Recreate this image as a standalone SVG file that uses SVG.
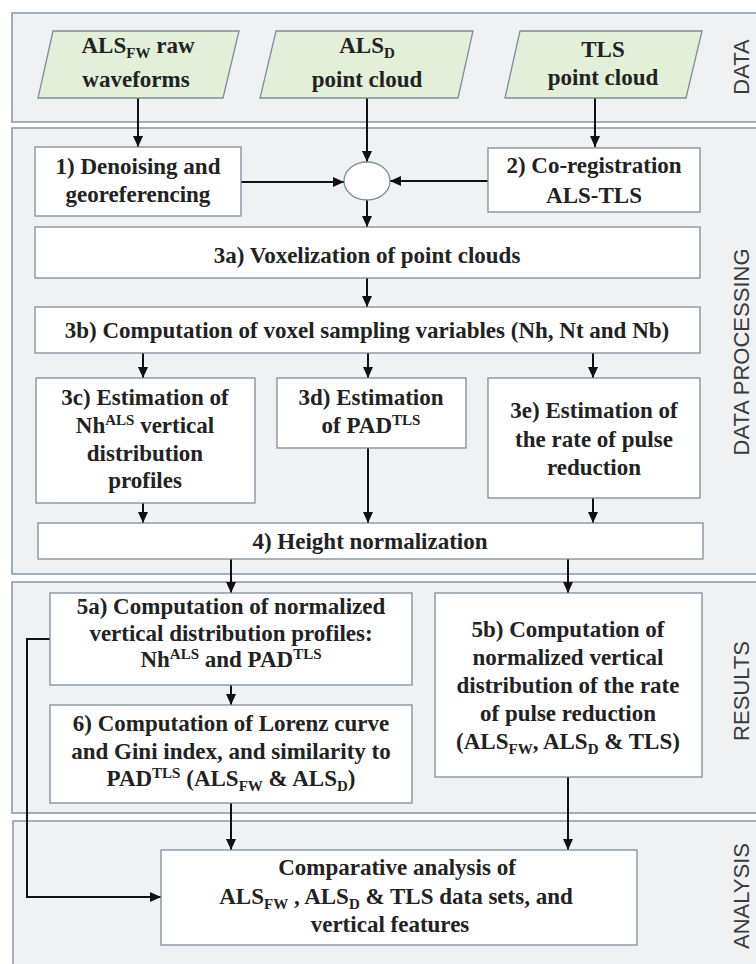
<svg xmlns="http://www.w3.org/2000/svg" width="756" height="964" viewBox="0 0 756 964">
<defs>
<marker id="ah" markerUnits="userSpaceOnUse" markerWidth="11" markerHeight="10" refX="11" refY="5" orient="auto">
<path d="M0,0 L11,5 L0,10 z" fill="#111"/>
</marker>
<style>
.panel{fill:#f0f1f3;stroke:#8d9cab;stroke-width:1.6}
.box{fill:#ffffff;stroke:#7f8c99;stroke-width:1.3}
.para{fill:#e3efd9;stroke:#7f8c99;stroke-width:1.3}
.t{font-family:"Liberation Serif","Times New Roman",serif;font-weight:bold;font-size:23px;fill:#222;text-anchor:middle}
.s{font-size:15px}
.lab{font-family:"Liberation Sans",Arial,sans-serif;font-size:22px;fill:#3a3a3a;text-anchor:middle}
.c{fill:none;stroke:#111;stroke-width:2}
</style>
</defs>
<rect width="756" height="964" fill="#ffffff"/>
<g id="panels">
<rect class="panel" x="12" y="13" width="760" height="109"/>
<rect class="panel" x="12" y="128" width="760" height="446"/>
<rect class="panel" x="12" y="582" width="760" height="231"/>
<rect class="panel" x="13" y="821" width="760" height="160"/>
<text class="lab" transform="translate(749,67) rotate(-90)">DATA</text>
<text class="lab" transform="translate(749,352) rotate(-90)">DATA PROCESSING</text>
<text class="lab" transform="translate(749,691) rotate(-90)">RESULTS</text>
<text class="lab" transform="translate(749,896) rotate(-90)">ANALYSIS</text>
</g>
<g id="connectors">
<path class="c" marker-end="url(#ah)" d="M138,98 V147"/>
<path class="c" marker-end="url(#ah)" d="M367,98 V162"/>
<path class="c" marker-end="url(#ah)" d="M595,98 V147"/>
<path class="c" marker-end="url(#ah)" d="M241,182 H344"/>
<path class="c" marker-end="url(#ah)" d="M488,181 H390"/>
<path class="c" marker-end="url(#ah)" d="M367,200 V227"/>
<path class="c" marker-end="url(#ah)" d="M367,278 V307"/>
<path class="c" marker-end="url(#ah)" d="M143,353 V378"/>
<path class="c" marker-end="url(#ah)" d="M368,353 V378"/>
<path class="c" marker-end="url(#ah)" d="M593,353 V378"/>
<path class="c" marker-end="url(#ah)" d="M143,503 V523"/>
<path class="c" marker-end="url(#ah)" d="M368,448 V523"/>
<path class="c" marker-end="url(#ah)" d="M593,498 V523"/>
<path class="c" marker-end="url(#ah)" d="M231,559 V593"/>
<path class="c" marker-end="url(#ah)" d="M568,559 V593"/>
<path class="c" marker-end="url(#ah)" d="M231,685 V705"/>
<path class="c" marker-end="url(#ah)" d="M231,803 V850"/>
<path class="c" marker-end="url(#ah)" d="M568,777 V850"/>
<path class="c" marker-end="url(#ah)" d="M50,639 H27 V897 H161"/>
</g>
<g id="als_fw">
<polygon class="para" points="53,31 239,31 223,98 38,98"/>
<text class="t" x="138" y="53">ALS<tspan class="s" dy="5">FW</tspan><tspan dy="-5"> raw</tspan></text>
<text class="t" x="136" y="87">waveforms</text>
</g>
<g id="als_d">
<polygon class="para" points="276,31 473,31 458,98 260,98"/>
<text class="t" x="367" y="53">ALS<tspan class="s" dy="5">D</tspan></text>
<text class="t" x="367" y="87">point cloud</text>
</g>
<g id="tls">
<polygon class="para" points="520,31 702,31 686,98 505,98"/>
<text class="t" x="603" y="57">TLS</text>
<text class="t" x="603" y="85">point cloud</text>
</g>
<g id="merge">
<ellipse cx="367" cy="181" rx="23" ry="19" fill="#ffffff" stroke="#7f8c99" stroke-width="1.3"/>
</g>
<g id="step1">
<rect class="box" x="35" y="147" width="206" height="69"/>
<text class="t" x="138" y="174">1) Denoising and</text>
<text class="t" x="138" y="202">georeferencing</text>
</g>
<g id="step2">
<rect class="box" x="488" y="148" width="212" height="64"/>
<text class="t" x="594" y="173">2) Co-registration</text>
<text class="t" x="594" y="203">ALS-TLS</text>
</g>
<g id="step3a">
<rect class="box" x="35" y="227" width="665" height="51"/>
<text class="t" x="367" y="263">3a) Voxelization of point clouds</text>
</g>
<g id="step3b">
<rect class="box" x="35" y="307" width="665" height="46"/>
<text class="t" x="367" y="338">3b) Computation of voxel sampling variables (Nh, Nt and Nb)</text>
</g>
<g id="step3c">
<rect class="box" x="36" y="378" width="219" height="125"/>
<text class="t" x="145" y="405">3c) Estimation of</text>
<text class="t" x="145" y="433">Nh<tspan class="s" dy="-8">ALS</tspan><tspan dy="8"> vertical</tspan></text>
<text class="t" x="145" y="461">distribution</text>
<text class="t" x="145" y="488">profiles</text>
</g>
<g id="step3d">
<rect class="box" x="277" y="378" width="189" height="70"/>
<text class="t" x="371" y="405">3d) Estimation</text>
<text class="t" x="371" y="433">of PAD<tspan class="s" dy="-8">TLS</tspan></text>
</g>
<g id="step3e">
<rect class="box" x="488" y="378" width="212" height="120"/>
<text class="t" x="594" y="418">3e) Estimation of</text>
<text class="t" x="594" y="447">the rate of pulse</text>
<text class="t" x="594" y="475">reduction</text>
</g>
<g id="step4">
<rect class="box" x="38" y="523" width="665" height="36"/>
<text class="t" x="370" y="549">4) Height normalization</text>
</g>
<g id="step5a">
<rect class="box" x="50" y="593" width="362" height="92"/>
<text class="t" x="231" y="614">5a) Computation of normalized</text>
<text class="t" x="231" y="641">vertical distribution profiles:</text>
<text class="t" x="231" y="667">Nh<tspan class="s" dy="-8">ALS</tspan><tspan dy="8"> and PAD</tspan><tspan class="s" dy="-8">TLS</tspan></text>
</g>
<g id="step6">
<rect class="box" x="50" y="705" width="362" height="98"/>
<text class="t" x="231" y="731">6) Computation of Lorenz curve</text>
<text class="t" x="231" y="759">and Gini index, and similarity to</text>
<text class="t" x="231" y="786">PAD<tspan class="s" dy="-8">TLS</tspan><tspan dy="8"> (ALS</tspan><tspan class="s" dy="5">FW</tspan><tspan dy="-5"> &amp; ALS</tspan><tspan class="s" dy="5">D</tspan><tspan dy="-5">)</tspan></text>
</g>
<g id="step5b">
<rect class="box" x="435" y="593" width="267" height="184"/>
<text class="t" x="568" y="637">5b) Computation of</text>
<text class="t" x="568" y="665">normalized vertical</text>
<text class="t" x="568" y="693">distribution of the rate</text>
<text class="t" x="568" y="721">of pulse reduction</text>
<text class="t" x="568" y="749">(ALS<tspan class="s" dy="5">FW</tspan><tspan dy="-5">, ALS</tspan><tspan class="s" dy="5">D</tspan><tspan dy="-5"> &amp; TLS)</tspan></text>
</g>
<g id="analysis">
<rect class="box" x="161" y="850" width="476" height="95"/>
<text class="t" x="397" y="875">Comparative analysis of</text>
<text class="t" x="396" y="904">ALS<tspan class="s" dy="5">FW</tspan><tspan dy="-5"> , ALS</tspan><tspan class="s" dy="5">D</tspan><tspan dy="-5"> &amp; TLS data sets, and</tspan></text>
<text class="t" x="390" y="932">vertical features</text>
</g>
</svg>
